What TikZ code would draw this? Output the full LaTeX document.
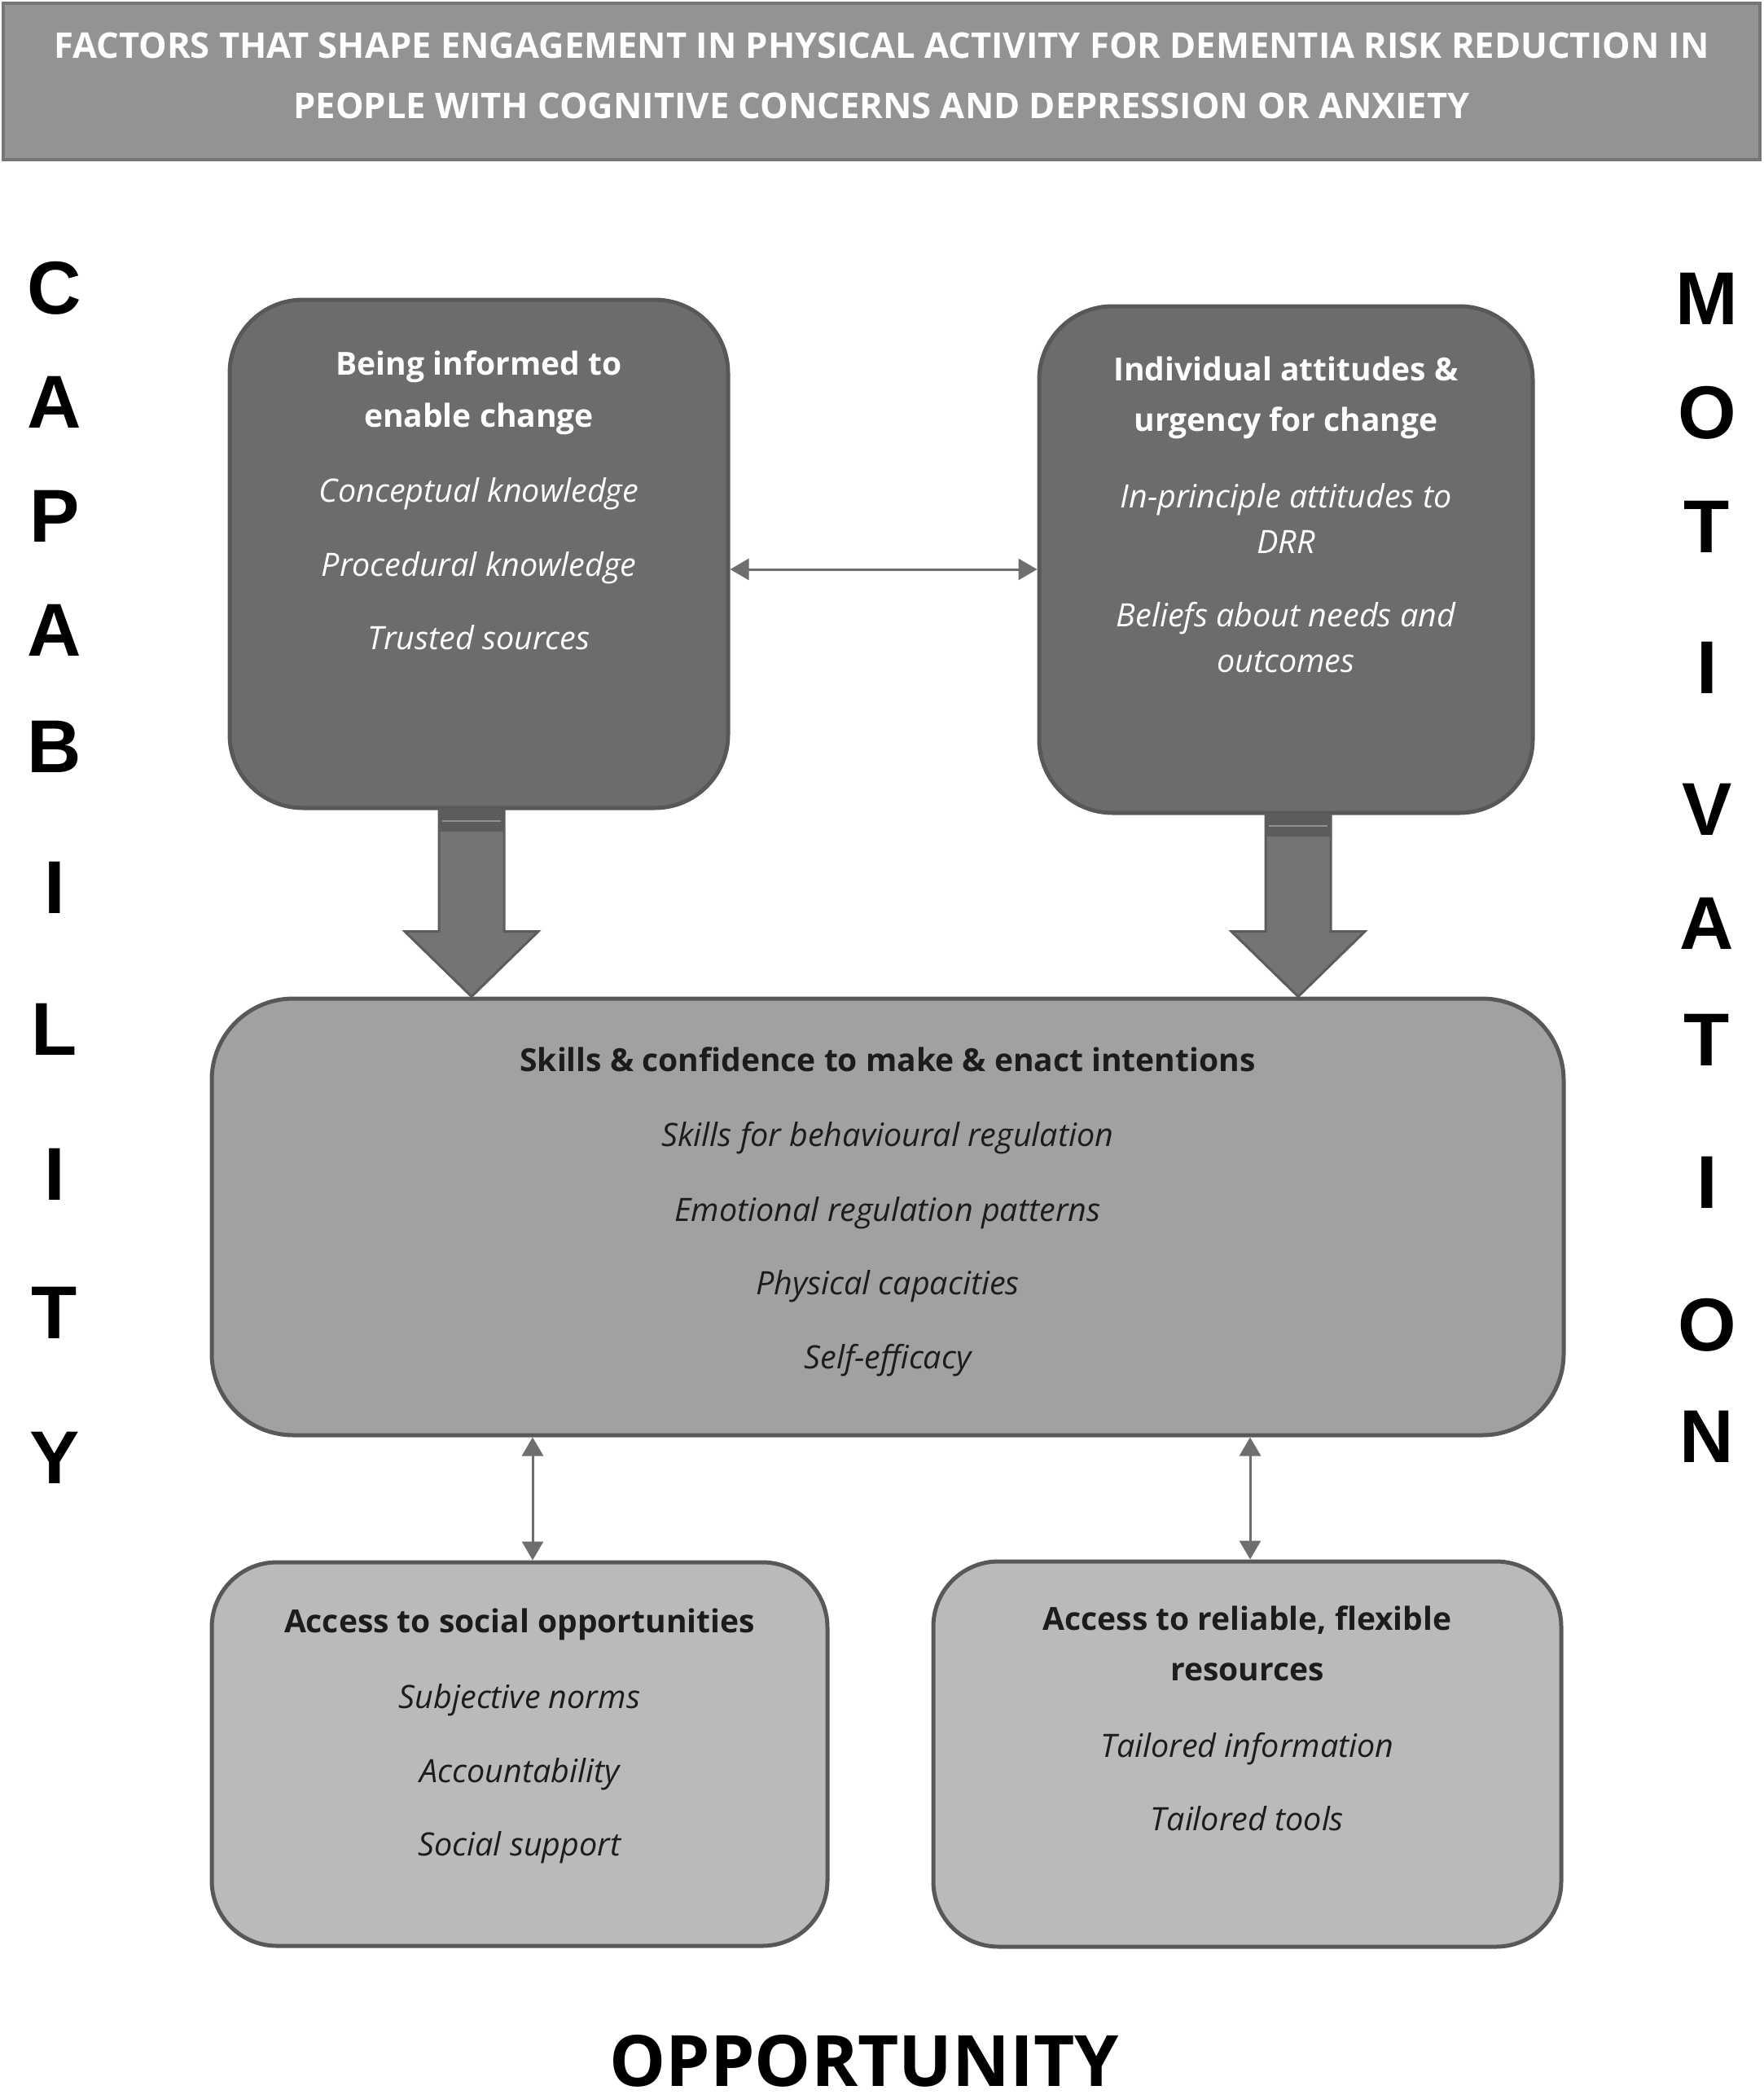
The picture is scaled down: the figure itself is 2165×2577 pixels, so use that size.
\documentclass[tikz,border=0pt]{standalone}
\usepackage{fontspec}
\setmainfont{Open Sans}
\newfontfamily\sidefont{Liberation Sans}
\usetikzlibrary{arrows.meta,calc,positioning}
\definecolor{barfill}{RGB}{147,147,149}
\definecolor{barline}{RGB}{118,118,120}
\definecolor{darkfill}{RGB}{108,108,111}
\definecolor{midfill}{RGB}{161,161,164}
\definecolor{lightfill}{RGB}{186,186,189}
\definecolor{edgegray}{RGB}{88,88,91}
\definecolor{arrowgray}{RGB}{110,110,113}
\definecolor{fatgray}{RGB}{116,116,119}
\definecolor{bandgray}{RGB}{92,92,95}
\definecolor{inkdark}{RGB}{28,28,30}

\tikzset{
  factorbox/.style={draw=edgegray,line width=5pt,rounded corners=#1,inner sep=0pt},
  headtext/.style={font=\fontsize{39}{62}\selectfont\bfseries,anchor=base,inner sep=0pt},
  itemtext/.style={font=\fontsize{39.5}{56}\selectfont\itshape,anchor=base,inner sep=0pt},
  sideletter/.style={font=\fontsize{92}{92}\selectfont\sidefont\bfseries,anchor=base,inner sep=0pt},
  linkarrow/.style={draw=arrowgray,line width=3pt,{Triangle[length=23pt,width=26pt]}-{Triangle[length=23pt,width=26pt]}},
  fatfill/.style={fill=fatgray,draw=bandgray,line width=3pt,line join=miter}
}

% block arrow from a top box down to the skills box
\newcommand\fatarrow[2]{%
  \draw[fatfill] let \p1=([xshift=#2]#1.south), \p2=(skills.north) in
    (\x1-40pt,\y1) -- (\x1+40pt,\y1) -- (\x1+40pt,\y2+80pt) -- (\x1+82pt,\y2+80pt)
    -- (\x1,\y2) -- (\x1-82pt,\y2+80pt) -- (\x1-40pt,\y2+80pt) -- cycle;
  \fill[bandgray] let \p1=([xshift=#2]#1.south) in
    (\x1-40pt,\y1) rectangle (\x1+40pt,\y1-26pt);
  \draw[fatgray!80!white,line width=2pt] let \p1=([xshift=#2]#1.south) in
    (\x1-36pt,\y1-13pt) -- (\x1+36pt,\y1-13pt);
}

\begin{document}
\begin{tikzpicture}[x=1pt,y=-1pt]
  \useasboundingbox (0,0) rectangle (2165,2577);

  % banner
  \node[fill=barfill,draw=barline,line width=4pt,minimum width=2157pt,minimum height=192pt,inner sep=0pt] (banner) at (1082.5,100) {};
  \foreach \t/\y in {FACTORS THAT SHAPE ENGAGEMENT IN PHYSICAL ACTIVITY FOR DEMENTIA RISK REDUCTION IN/72,
                     PEOPLE WITH COGNITIVE CONCERNS AND DEPRESSION OR ANXIETY/146}
    \node[font=\fontsize{43.5}{43.5}\selectfont\bfseries,white,anchor=base,inner sep=0pt] at (1082.5,\y) {\t};

  % boxes
  \node[factorbox=90pt,fill=darkfill,minimum width=612pt,minimum height=624pt] (inform) at (588,680) {};
  \node[factorbox=90pt,fill=darkfill,minimum width=606pt,minimum height=622pt] (attitude) at (1579,687) {};
  \node[factorbox=100pt,fill=midfill,minimum width=1660pt,minimum height=536pt] (skills) at (1090,1494) {};
  \node[factorbox=80pt,fill=lightfill,minimum width=756pt,minimum height=471pt] (social) at (638,2153.5) {};
  \node[factorbox=80pt,fill=lightfill,minimum width=771pt,minimum height=473pt] (resource) at (1531.5,2153.5) {};

  % texts
  \foreach \t/\y in {Being informed to/460, enable change/524}
    \node[headtext,white] at (588,\y) {\t};
  \foreach \t/\y in {Conceptual knowledge/616, Procedural knowledge/707, Trusted sources/797}
    \node[itemtext,white] at (588,\y) {\t};
  \foreach \t/\y in {Individual attitudes \&/467, urgency for change/529}
    \node[headtext,white] at (1579,\y) {\t};
  \foreach \t/\y in {In-principle attitudes to/623, DRR/679, Beliefs about needs and/769, outcomes/825}
    \node[itemtext,white] at (1579,\y) {\t};
  \node[headtext,inkdark] at (1090,1315) {Skills \& confidence to make \& enact intentions};
  \foreach \t/\y in {Skills for behavioural regulation/1407, Emotional regulation patterns/1499, Physical capacities/1589, Self-efficacy/1680}
    \node[itemtext,inkdark] at (1090,\y) {\t};
  \node[headtext,inkdark] at (638,2004) {Access to social opportunities};
  \foreach \t/\y in {Subjective norms/2097, Accountability/2188, Social support/2278}
    \node[itemtext,inkdark] at (638,\y) {\t};
  \foreach \t/\y in {{Access to reliable, flexible}/2001, resources/2063}
    \node[headtext,inkdark] at (1531.5,\y) {\t};
  \foreach \t/\y in {Tailored information/2157, Tailored tools/2247}
    \node[itemtext,inkdark] at (1531.5,\y) {\t};

  % arrows
  \fatarrow{inform}{-9pt}
  \fatarrow{attitude}{15pt}
  \draw[linkarrow] ([yshift=-19pt]inform.east) -- ([yshift=-19pt]inform.east -| attitude.west);
  \coordinate (sa) at (654,0);
  \coordinate (ra) at (1535,0);
  \draw[linkarrow] (skills.south -| sa) -- (social.north -| sa);
  \draw[linkarrow] (skills.south -| ra) -- (resource.north -| ra);

  % side labels
  \foreach \ch/\y in {C/352, A/492, P/632, A/772, B/915, I/1088, L/1262, I/1440, T/1610, Y/1788}
    \node[sideletter] at (67,\y+33) {\ch};
  \foreach \ch/\y in {M/365, O/505, T/645, I/818, V/992, A/1132, T/1275, I/1450, O/1625, N/1762}
    \node[sideletter] at (2096,\y+33) {\ch};
  \node[font=\fontsize{87}{87}\selectfont\bfseries,anchor=base,inner sep=0pt] (opp) at (1061,2561) {OPPORTUNITY};
\end{tikzpicture}
\end{document}
